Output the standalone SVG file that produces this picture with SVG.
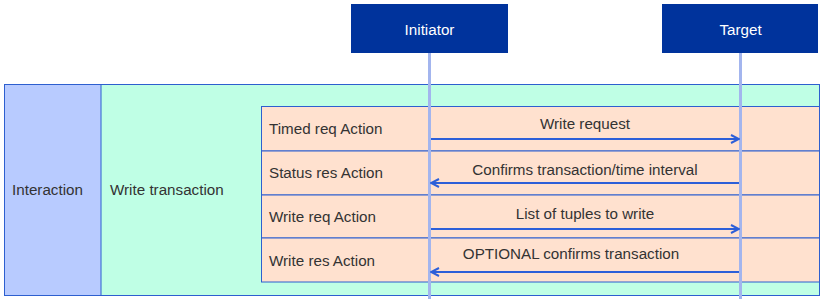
<svg xmlns="http://www.w3.org/2000/svg" width="822" height="299" viewBox="0 0 822 299">
<defs>
<style>
text{font-family:"Liberation Sans",Arial,sans-serif;font-size:15.2px;fill:#333}
.hdr{fill:#00339c;stroke:none}
.hdrt{fill:#fff;text-anchor:middle}
.life{stroke:#a3b5ee;stroke-width:3;fill:none}
.row{fill:#ffe1cf;stroke:#2d5fcf;stroke-width:1}
.msg{stroke:#2d5fd8;stroke-width:2;fill:none}
.lbl{text-anchor:middle}
</style>
<marker id="ah" viewBox="0 0 10 10" refX="9" refY="5" markerWidth="10" markerHeight="10" markerUnits="userSpaceOnUse" orient="auto">
<path d="M1,1 L9,5 L1,9" fill="none" stroke="#2d5fd8" stroke-width="2"/>
</marker>
</defs>
<g id="frame">
<rect x="4.5" y="84.5" width="815" height="211" fill="#bfffe5" stroke="#2d5fcf"/>
<rect x="4.5" y="84.5" width="96.5" height="211" fill="#b8cbff" stroke="#2d5fcf"/>
<text x="12" y="195">Interaction</text>
<text x="110" y="195">Write transaction</text>
</g>
<g id="rows">
<rect class="row" x="261.5" y="106.5" width="558" height="44.5"/>
<rect class="row" x="261.5" y="151" width="558" height="44"/>
<rect class="row" x="261.5" y="195" width="558" height="43"/>
<rect class="row" x="261.5" y="238" width="558" height="44"/>
<text x="269" y="134">Timed req Action</text>
<text x="269" y="178">Status res Action</text>
<text x="269" y="222">Write req Action</text>
<text x="269" y="266">Write res Action</text>
</g>
<g id="initiator">
<rect class="hdr" x="351" y="4" width="157" height="49"/>
<text class="hdrt" x="429.5" y="35" style="fill:#fff">Initiator</text>
</g>
<g id="target">
<rect class="hdr" x="662" y="4" width="156" height="49"/>
<text class="hdrt" x="740.5" y="35" style="fill:#fff">Target</text>
</g>
<g id="lifelines">
<line class="life" x1="429.5" y1="53" x2="429.5" y2="299"/>
<line class="life" x1="740.5" y1="53" x2="740.5" y2="299"/>
</g>
<g id="connectors">
<line class="msg" x1="431" y1="139" x2="739" y2="139" marker-end="url(#ah)"/>
<line class="msg" x1="739" y1="183" x2="431" y2="183" marker-end="url(#ah)"/>
<line class="msg" x1="431" y1="229" x2="739" y2="229" marker-end="url(#ah)"/>
<line class="msg" x1="739" y1="272" x2="431" y2="272" marker-end="url(#ah)"/>
<text class="lbl" x="585" y="129">Write request</text>
<text class="lbl" x="585" y="175">Confirms transaction/time interval</text>
<text class="lbl" x="585" y="219">List of tuples to write</text>
<text class="lbl" x="571" y="259">OPTIONAL confirms transaction</text>
</g>
</svg>
